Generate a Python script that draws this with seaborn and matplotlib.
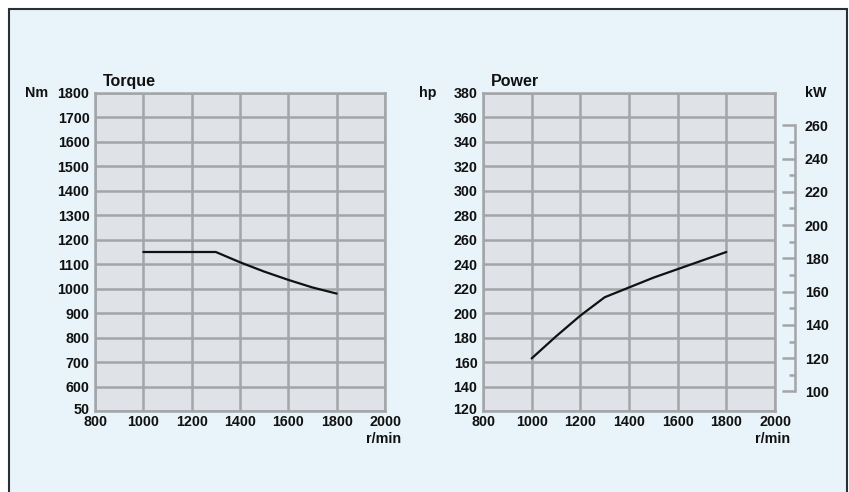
import seaborn as sns
import matplotlib.pyplot as plt
import matplotlib.transforms as mtransforms
from matplotlib.patches import Rectangle
from matplotlib.ticker import FixedLocator

# data
rpm_torque = [1000, 1300, 1400, 1500, 1600, 1700, 1800]
torque_nm = [1150, 1150, 1108, 1070, 1036, 1005, 980]

rpm_power = [1000, 1100, 1200, 1300, 1400, 1500, 1600, 1700, 1800]
power_hp = [163, 181, 198, 213, 221, 229, 236, 243, 250]

rpm_ticks = [800, 1000, 1200, 1400, 1600, 1800, 2000]
torque_ticks = [500, 600, 700, 800, 900, 1000, 1100, 1200, 1300, 1400, 1500, 1600, 1700, 1800]
torque_labels = ['50', '600', '700', '800', '900', '1000', '1100', '1200', '1300',
                 '1400', '1500', '1600', '1700', '1800']
hp_ticks = list(range(120, 381, 20))
kw_ticks = list(range(100, 261, 20))
HP_PER_KW = 1.36

sns.set_style('white')
plt.rcParams['font.family'] = ['Liberation Sans', 'DejaVu Sans']
plt.rcParams['font.weight'] = 'bold'

BG = '#e8f3fa'
PANEL = '#dfe2e6'
GRID = '#a3a5a8'
INK = '#111111'
FS = 10.3

fig = plt.figure(figsize=(8.49, 4.92), dpi=100, facecolor='white')
fig.patches.append(Rectangle((9 / 849, -0.01), 838 / 849, 1 - 9 / 492 + 0.01,
                             transform=fig.transFigure, facecolor=BG,
                             edgecolor='#2a2f36', linewidth=1.5, zorder=-5))
lift = mtransforms.ScaledTranslation(0, 2.5 / 100, fig.dpi_scale_trans)


def style_axes(ax, yticks, ylabels):
    ax.set_facecolor(PANEL)
    ax.set_xlim(800, 2000)
    ax.set_xticks(rpm_ticks)
    ax.set_yticks(yticks)
    ax.set_yticklabels(ylabels)
    ax.set_ylim(yticks[0], yticks[-1])
    ax.grid(True, color=GRID, linewidth=1.8)
    ax.set_axisbelow(True)
    for s in ax.spines.values():
        s.set_color(GRID)
        s.set_linewidth(1.8)
    ax.tick_params(length=0, labelsize=FS, colors=INK, pad=4)
    ax.tick_params(axis='x', pad=3)
    for lab in ax.get_xticklabels() + ax.get_yticklabels():
        lab.set_fontweight('bold')
    first = ax.get_yticklabels()[0]
    first.set_transform(first.get_transform() + lift)
    ax.set_xlabel('')
    ax.set_ylabel('')


# torque
ax1 = fig.add_axes([95 / 849, 1 - 411 / 492, 290 / 849, 318 / 492])
sns.lineplot(x=rpm_torque, y=torque_nm, ax=ax1, color=INK, linewidth=1.6)
style_axes(ax1, torque_ticks, torque_labels)
ax1.text(0.028, 1.012, 'Torque', transform=ax1.transAxes, ha='left', va='bottom',
         fontsize=11.5, fontweight='bold', color=INK)
ax1.text(-0.162, 1.0, 'Nm', transform=ax1.transAxes, ha='right', va='center',
         fontsize=FS, fontweight='bold', color=INK)
ax1.text(1.055, -0.066, 'r/min', transform=ax1.transAxes, ha='right', va='top',
         fontsize=FS, fontweight='bold', color=INK)

# power
ax2 = fig.add_axes([483 / 849, 1 - 411 / 492, 292 / 849, 318 / 492])
sns.lineplot(x=rpm_power, y=power_hp, ax=ax2, color=INK, linewidth=1.6)
style_axes(ax2, hp_ticks, [str(v) for v in hp_ticks])
ax2.text(0.028, 1.012, 'Power', transform=ax2.transAxes, ha='left', va='bottom',
         fontsize=11.5, fontweight='bold', color=INK)
ax2.text(-0.158, 1.0, 'hp', transform=ax2.transAxes, ha='right', va='center',
         fontsize=FS, fontweight='bold', color=INK)
ax2.text(1.051, -0.066, 'r/min', transform=ax2.transAxes, ha='right', va='top',
         fontsize=FS, fontweight='bold', color=INK)
ax2.text(1.103, 1.0, 'kW', transform=ax2.transAxes, ha='left', va='center',
         fontsize=FS, fontweight='bold', color=INK)

# kW scale
kw = ax2.twinx()
kw.set_ylim(hp_ticks[0] / HP_PER_KW, hp_ticks[-1] / HP_PER_KW)
kw.yaxis.set_major_locator(FixedLocator(kw_ticks))
kw.yaxis.set_minor_locator(FixedLocator([v + 10 for v in kw_ticks[:-1]]))
for name in ['top', 'bottom', 'left']:
    kw.spines[name].set_visible(False)
kw.spines['right'].set_position(('outward', 14.5))
kw.spines['right'].set_bounds(kw_ticks[0], kw_ticks[-1])
kw.spines['right'].set_color(GRID)
kw.spines['right'].set_linewidth(1.8)
kw.tick_params(axis='y', which='major', direction='in', length=9.5, width=1.8,
               color=GRID, labelsize=FS, labelcolor=INK, pad=7)
kw.tick_params(axis='y', which='minor', direction='in', length=4, width=1.8, color=GRID)
for lab in kw.get_yticklabels():
    lab.set_fontweight('bold')

fig.savefig('out.png', dpi=100, facecolor='white')
